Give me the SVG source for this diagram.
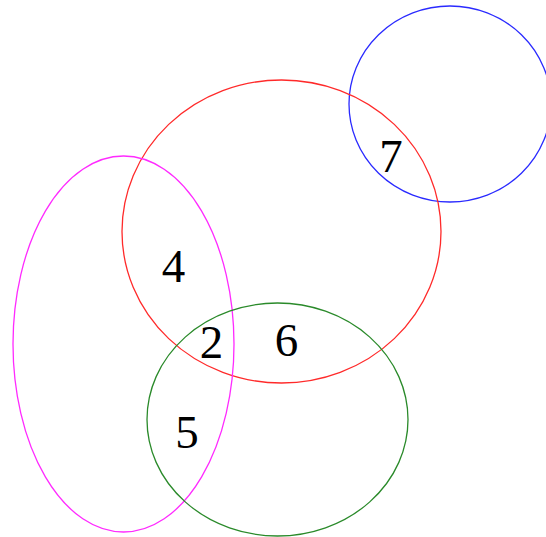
<svg xmlns="http://www.w3.org/2000/svg" width="546" height="537" viewBox="0 0 546 537">
<style>
.s{fill:none;stroke-width:1.3}
.t{font-family:"Liberation Serif","Times New Roman",serif;font-size:47px;fill:#000;text-anchor:middle}
</style>
<rect width="546" height="537" fill="#ffffff"/>
<g id="blue"><ellipse class="s" cx="450" cy="104" rx="101" ry="98" stroke="#2a2aff"/></g>
<g id="red"><ellipse class="s" cx="281.5" cy="231.5" rx="159.5" ry="151.5" stroke="#ff2a2a"/></g>
<g id="magenta"><ellipse class="s" cx="123.5" cy="344" rx="110.5" ry="188" stroke="#ff2aff"/></g>
<g id="green"><ellipse class="s" cx="277.5" cy="419.5" rx="130.5" ry="116.5" stroke="#2a8a2a"/></g>
<g id="labels">
<text class="t" x="173.5" y="282">4</text>
<text class="t" x="211.5" y="358">2</text>
<text class="t" x="286.5" y="356">6</text>
<text class="t" x="187" y="448">5</text>
<text class="t" x="391" y="172">7</text>
</g>
</svg>
